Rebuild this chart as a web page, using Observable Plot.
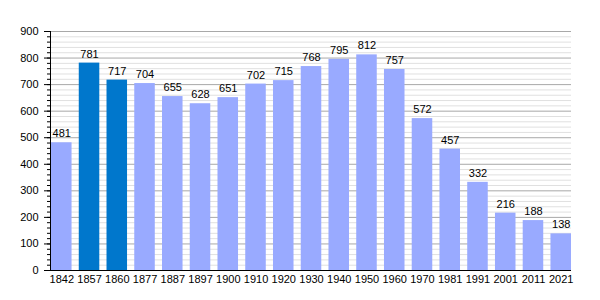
<!DOCTYPE html>
<html><head><meta charset="utf-8">
<script src="https://cdn.jsdelivr.net/npm/d3@7"></script>
<script src="https://cdn.jsdelivr.net/npm/@observablehq/plot@0.6"></script>
<style>body{margin:0;background:#fff}</style>
</head><body><div id="chart"></div>
<script>
const years = ["1842","1857","1860","1877","1887","1897","1900","1910","1920","1930","1940","1950","1960","1970","1981","1991","2001","2011","2021"];
const population = [481,781,717,704,655,628,651,702,715,768,795,812,757,572,457,332,216,188,138];
const highlighted = ["1857","1860"];
const yTicks = [0,100,200,300,400,500,600,700,800,900];
const minorTicks = d3.range(0, 901, 20);

const data = years.map((y,i)=>({year:y, value:population[i], hi: highlighted.includes(y)}));

const chart = Plot.plot({
  width: 600, height: 300,
  marginLeft: 50, marginRight: 29, marginTop: 31, marginBottom: 30,
  style: {fontFamily: "Liberation Sans, Arial, sans-serif", fontSize: "11px", background: "#fff"},
  x: {domain: years, range: [43.8, 578.2], padding: 0.26, round: false, label: null, tickSize: 0, tickPadding: 5},
  y: {domain: [0, 900], ticks: yTicks, label: null},
  marks: [
    Plot.ruleY(minorTicks.filter(d=>d%100!==0), {stroke: "#e0e0e0", strokeWidth: 1}),
    Plot.ruleY(yTicks.filter(d=>d>0), {stroke: "#a8a8a8", strokeWidth: 1}),
    Plot.barY(data, {x: "year", y: "value", fill: d => d.hi ? "#0077cc" : "#99aaff"}),
    Plot.text(data, {x: "year", y: "value", text: d => String(d.value), dy: -9, fill: "#000", fontSize: 11}),
    Plot.axisY({ticks: yTicks, tickSize: 6, tickPadding: 6, label: null, fontSize: 11}),
    Plot.axisY({ticks: minorTicks, tickSize: 3, text: null, label: null}),
    Plot.frame({anchor: "left", stroke: "#000"}),
    Plot.ruleY([0], {stroke: "#000"})
  ]
});
document.getElementById("chart").appendChild(chart);
</script>
</body></html>
